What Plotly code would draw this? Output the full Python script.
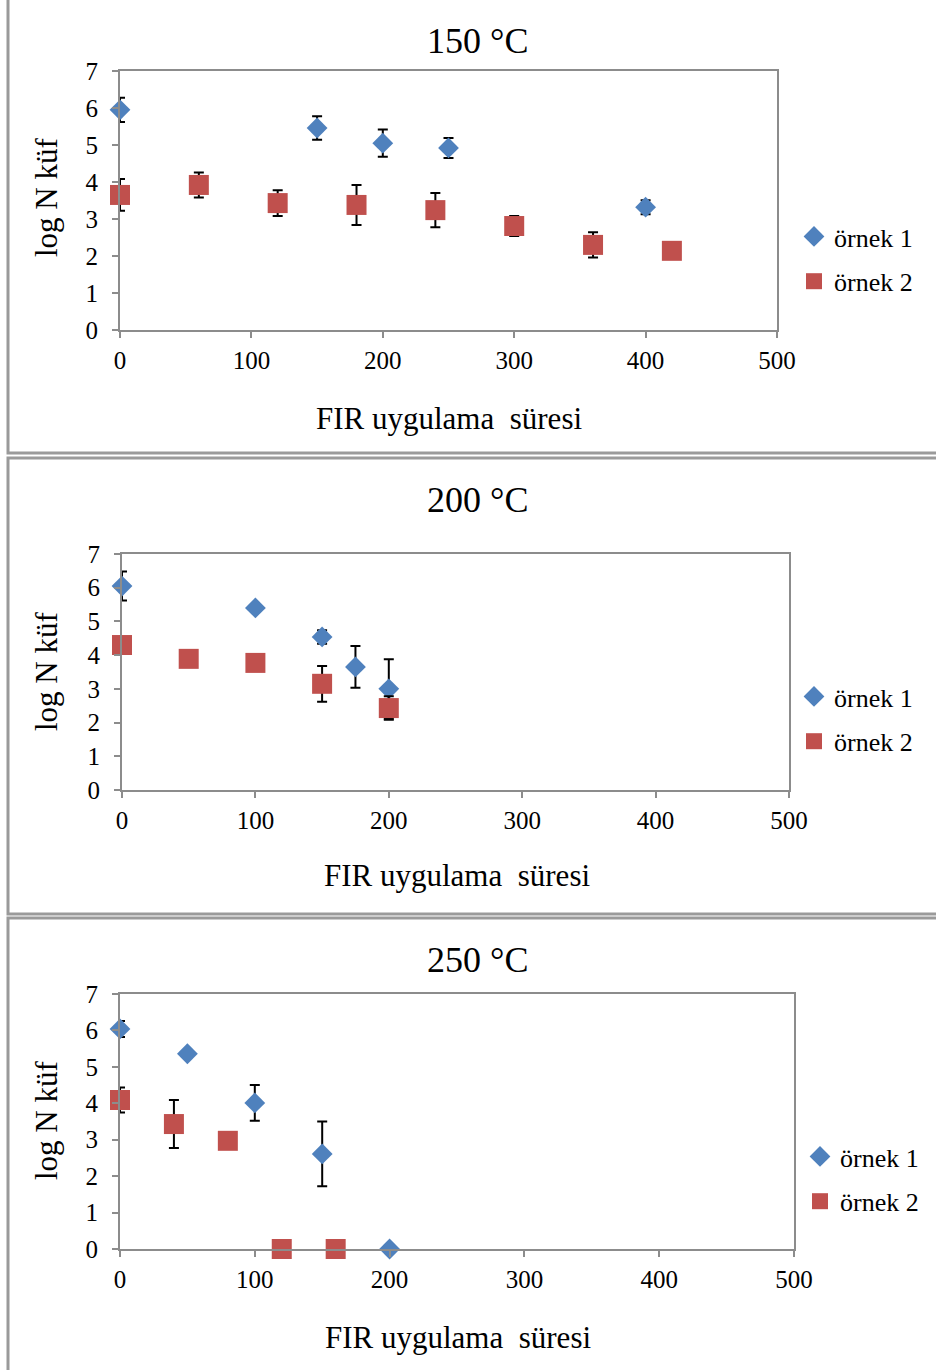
import plotly.graph_objects as go

# --- data -------------------------------------------------------------
titles = ["150 °C", "200 °C", "250 °C"]
series_names = ["örnek 1", "örnek 2"]

# 150 °C
t150_s1 = [0, 150, 200, 250, 400]
y150_s1 = [5.95, 5.46, 5.05, 4.92, 3.32]
e150_s1 = [0.33, 0.32, 0.37, 0.27, 0.19]
t150_s2 = [0, 60, 120, 180, 240, 300, 360, 420]
y150_s2 = [3.65, 3.92, 3.43, 3.38, 3.24, 2.81, 2.30, 2.14]
e150_s2 = [0.43, 0.34, 0.35, 0.54, 0.46, 0.27, 0.34, 0.0]

# 200 °C
t200_s1 = [0, 100, 150, 175, 200]
y200_s1 = [6.05, 5.40, 4.54, 3.65, 3.00]
e200_s1 = [0.43, 0.0, 0.20, 0.62, 0.88]
t200_s2 = [0, 50, 100, 150, 200]
y200_s2 = [4.30, 3.89, 3.77, 3.15, 2.43]
e200_s2 = [0.0, 0.0, 0.0, 0.53, 0.35]

# 250 °C
t250_s1 = [0, 50, 100, 150, 200]
y250_s1 = [6.04, 5.36, 4.01, 2.61, 0.0]
e250_s1 = [0.22, 0.0, 0.49, 0.89, 0.0]
t250_s2 = [0, 40, 80, 120, 160]
y250_s2 = [4.09, 3.43, 2.97, 0.0, 0.0]
e250_s2 = [0.34, 0.66, 0.0, 0.0, 0.0]

x_ticks = [0, 100, 200, 300, 400, 500]
y_ticks = [0, 1, 2, 3, 4, 5, 6, 7]

panels = [
    (t150_s1, y150_s1, e150_s1, t150_s2, y150_s2, e150_s2),
    (t200_s1, y200_s1, e200_s1, t200_s2, y200_s2, e200_s2),
    (t250_s1, y250_s1, e250_s1, t250_s2, y250_s2, e250_s2),
]

# --- styling ----------------------------------------------------------
W, H = 936, 1370
FONT = "Liberation Serif"
BLUE = "#4F81BD"
RED = "#C0504D"
AXIS_GREY = "#8c8c8c"
FRAME_GREY = "#9a9a9a"


def px_x(p):
    return p / W


def px_y(p):
    return 1 - p / H


# plot-area pixel boxes: (left, right, top, bottom)
boxes = [(120, 777, 71, 330), (122, 789, 554, 790), (120, 794, 994, 1249)]
# outer frames: (top, bottom)
frames = [(-20, 453), (458, 914), (918, 1390)]
title_y = [41, 500, 960]
xtitle_pos = [(449, 418), (457, 875), (458, 1337)]
ytitle_pos = [(46, 197), (46, 671), (46, 1120)]
legend_pos = [(794, 259), (794, 719), (800, 1179)]

fig = go.Figure()
layout = dict(
    width=W, height=H, autosize=False,
    margin=dict(l=0, r=0, t=0, b=0, pad=0, autoexpand=False),
    paper_bgcolor="white", plot_bgcolor="white",
    font=dict(family=FONT, color="black"),
    showlegend=True,
    shapes=[], annotations=[],
)

for i, (xs1, ys1, es1, xs2, ys2, es2) in enumerate(panels):
    n = "" if i == 0 else str(i + 1)
    xa, ya = "x" + n, "y" + n
    leg = "legend" + n
    for name, xs, ys, es, sym, size, col in [
        (series_names[0], xs1, ys1, es1, "diamond", 16, BLUE),
        (series_names[1], xs2, ys2, es2, "square", 20, RED),
    ]:
        fig.add_trace(go.Scatter(
            x=xs, y=ys, mode="markers", name=name,
            xaxis=xa, yaxis=ya, legend=leg, legendgroup=name + n,
            cliponaxis=False,
            marker=dict(symbol=sym, size=size, color=col,
                        line=dict(width=0)),
            error_y=dict(type="data", array=es, visible=True,
                         color="black", thickness=2, width=5),
        ))

    l, r, t, b = boxes[i]
    axis_common = dict(
        showline=True, linecolor=AXIS_GREY, linewidth=2, mirror=True,
        ticks="outside", ticklen=6, tickwidth=2, tickcolor=AXIS_GREY,
        showgrid=False, zeroline=False,
        tickfont=dict(family=FONT, size=25, color="black"),
    )
    layout["xaxis" + n] = dict(
        axis_common, domain=[px_x(l), px_x(r)], range=[0, 500],
        tickvals=x_ticks, anchor=ya, ticklabelstandoff=1,
    )
    layout["yaxis" + n] = dict(
        axis_common, domain=[px_y(b), px_y(t)], range=[0, 7],
        tickvals=y_ticks, anchor=xa, ticklabelstandoff=9,
    )

    lx, ly = legend_pos[i]
    layout[leg] = dict(
        x=px_x(lx), y=px_y(ly), xanchor="left", yanchor="middle",
        xref="paper", yref="paper",
        font=dict(family=FONT, size=26, color="black"),
        bgcolor="rgba(0,0,0,0)", borderwidth=0,
        itemwidth=30, tracegroupgap=8, traceorder="grouped",
        itemsizing="trace",
    )

    ft, fb = frames[i]
    layout["shapes"].append(dict(
        type="rect", xref="paper", yref="paper",
        x0=px_x(8), x1=px_x(960), y0=px_y(fb), y1=px_y(ft),
        line=dict(color=FRAME_GREY, width=3), fillcolor="rgba(0,0,0,0)",
        layer="below",
    ))

    layout["annotations"].append(dict(
        text=titles[i], x=px_x(478), y=px_y(title_y[i]),
        xref="paper", yref="paper", xanchor="center", yanchor="middle",
        showarrow=False, font=dict(family=FONT, size=36, color="black"),
    ))
    tx, ty = xtitle_pos[i]
    layout["annotations"].append(dict(
        text="FIR uygulama\u00a0 süresi", x=px_x(tx), y=px_y(ty),
        xref="paper", yref="paper", xanchor="center", yanchor="middle",
        showarrow=False, font=dict(family=FONT, size=31, color="black"),
    ))
    yx, yy = ytitle_pos[i]
    layout["annotations"].append(dict(
        text="log N küf", x=px_x(yx), y=px_y(yy), textangle=-90,
        xref="paper", yref="paper", xanchor="center", yanchor="middle",
        showarrow=False, font=dict(family=FONT, size=31, color="black"),
    ))

fig.update_layout(**layout)
fig.write_html("out.html")
